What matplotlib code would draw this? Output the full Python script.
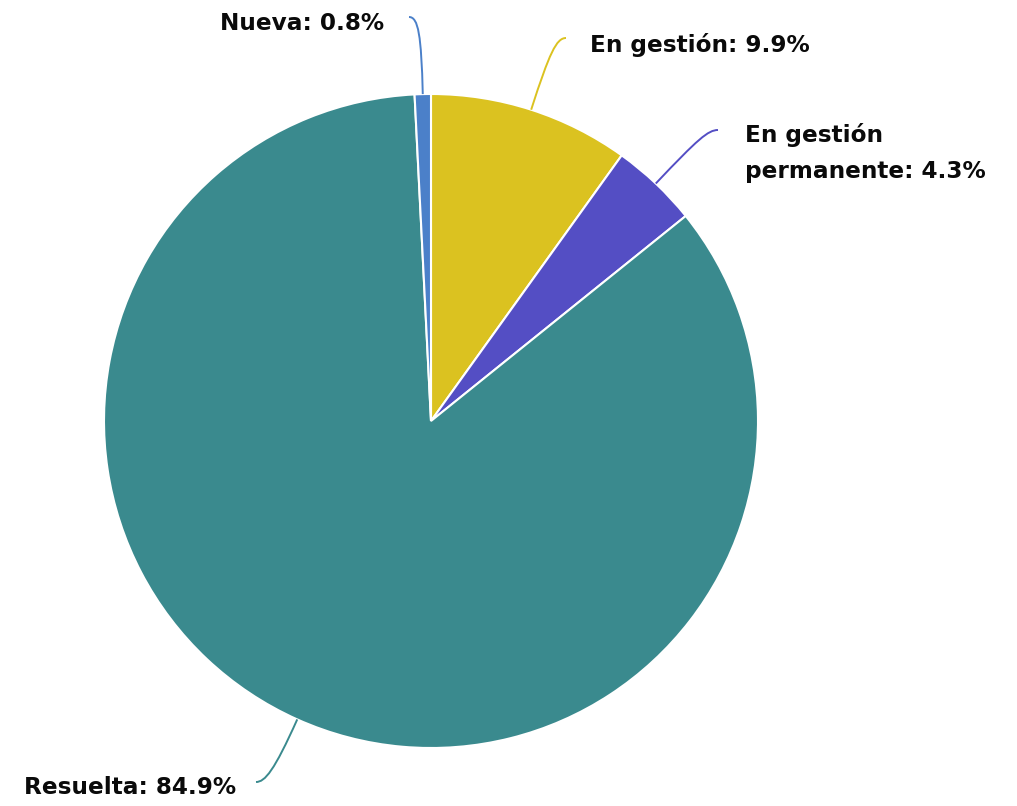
import numpy as np
import matplotlib
matplotlib.use("Agg")
import matplotlib.pyplot as plt
from matplotlib.path import Path
from matplotlib.patches import PathPatch

# Data
categories = ["En gestión", "En gestión\npermanente", "Resuelta", "Nueva"]
values = [9.9, 4.3, 84.9, 0.8]
colors = ["#dbc220", "#544ec4", "#3a8a8e", "#4b80c9"]

W, H = 1017, 806
fig = plt.figure(figsize=(W / 100, H / 100), dpi=100)
ax = fig.add_axes([0, 0, 1, 1])
ax.set_xlim(0, W)
ax.set_ylim(0, H)
ax.set_aspect("equal")
ax.axis("off")

cx, cy, R = 431, H - 421, 327
wedges, _ = ax.pie(values, colors=colors, startangle=90, counterclock=False,
                   center=(cx, cy), radius=R, normalize=True,
                   wedgeprops=dict(edgecolor="white", linewidth=1.5))
ax.set_xlim(0, W)
ax.set_ylim(0, H)

# label layout (pixel coords, top-down)
label_pos = [(590, 45, "left"), (745, 153, "left"), (236, 788, "right"), (384, 24, "right")]
conn_end = [(566, 38), (718, 130), (256, 782), (409, 17)]

for w, cat, val, col, (lx, ly, ha), (ex, ey) in zip(wedges, categories, values, colors, label_pos, conn_end):
    mid = np.deg2rad((w.theta1 + w.theta2) / 2)
    sx, sy = cx + R * np.cos(mid), cy + R * np.sin(mid)
    ey2 = H - ey
    d = np.hypot(ex - sx, ey2 - sy)
    p1 = (sx + 0.75 * d * np.cos(mid), sy + 0.75 * d * np.sin(mid))
    hdir = 1 if ha == "left" else -1
    p2 = (ex - hdir * 0.12 * d, ey2)
    path = Path([(sx, sy), p1, p2, (ex, ey2)], [Path.MOVETO, Path.CURVE4, Path.CURVE4, Path.CURVE4])
    ax.add_patch(PathPatch(path, fill=False, edgecolor=col, linewidth=1.4))
    ax.text(lx, H - ly, f"{cat}: {val}%", ha=ha, va="center", fontsize=16.7,
            fontweight="bold", family="DejaVu Sans", color="#0a0a0a", linespacing=1.7)

fig.savefig("out.png", dpi=100)
